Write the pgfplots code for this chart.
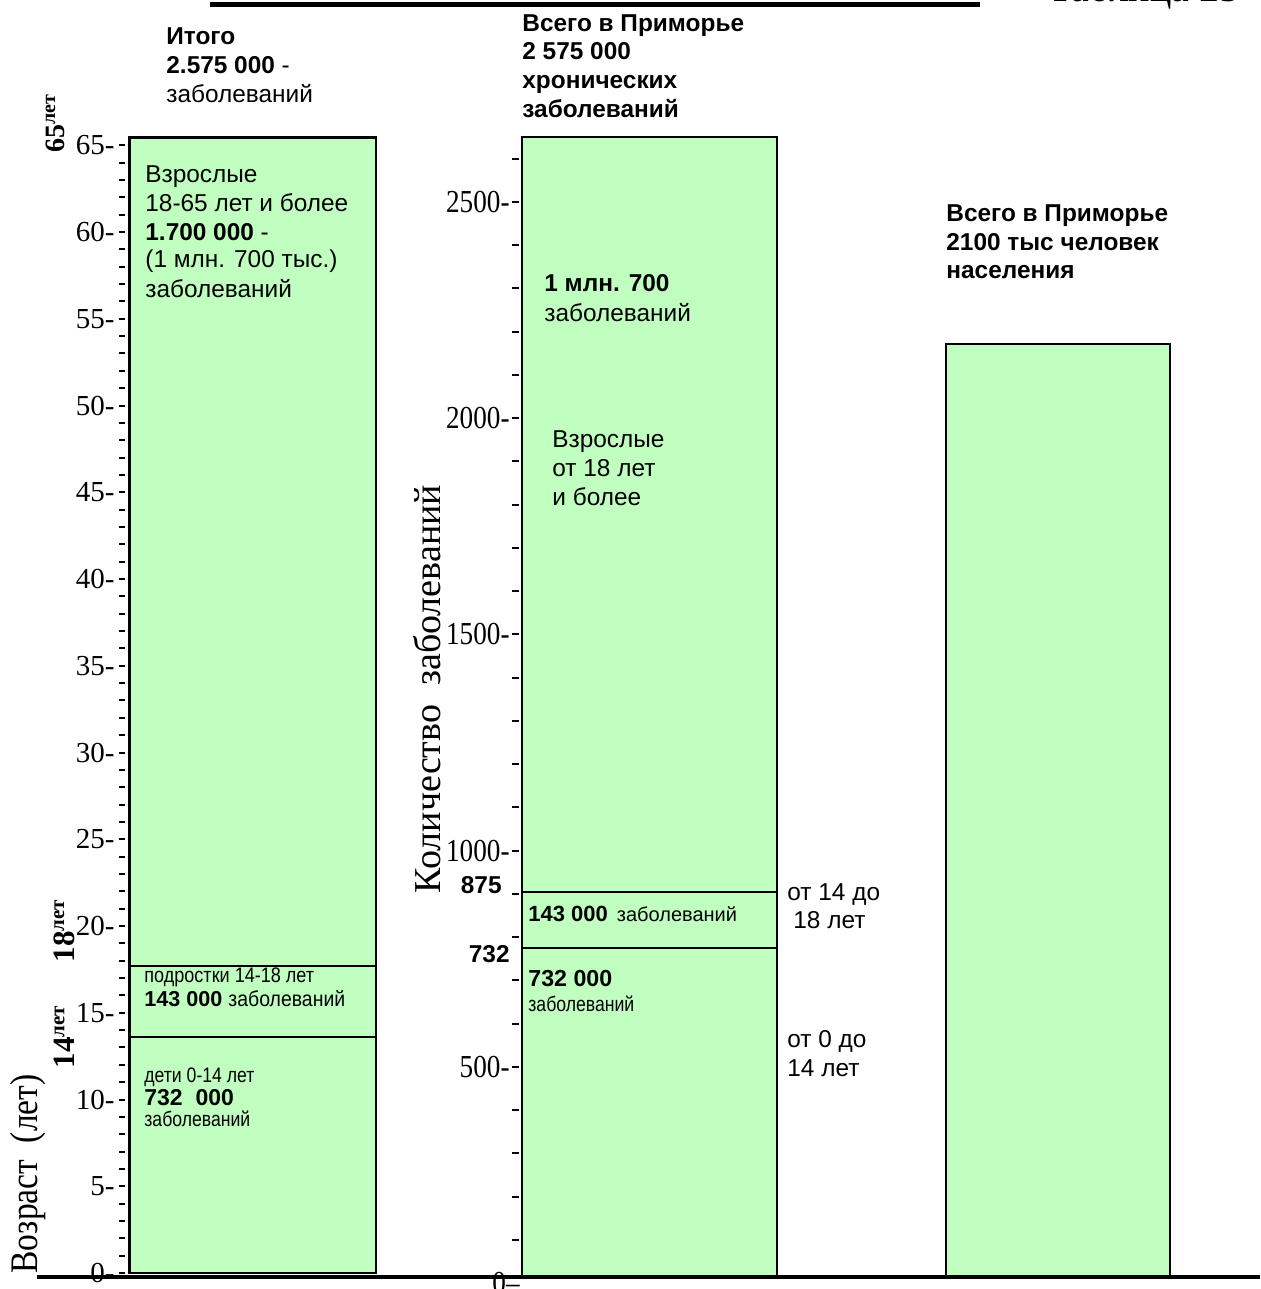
\documentclass[border=0pt]{standalone}
\usepackage{pgfplots}
\pgfplotsset{compat=1.18}
\usepackage{fontspec}
\setmainfont{Liberation Serif}
\newfontfamily\ar{Liberation Sans}
\definecolor{barg}{RGB}{192,255,192}
\newcommand\cond[2]{\scalebox{#1}[1]{#2}}
\newcommand\T[3]{\node[anchor=base west,inner sep=0pt] at (#1,#2) {#3};}

\pgfplotsset{
  colbar/.style={fill=barg, draw=black, line width=1.3pt},
  tickaxis/.style={
    scale only axis,
    axis line style={draw=none},
    xtick=\empty, ytick pos=left,
    tick align=outside,
    every major tick/.append style={line width=1pt, black},
    every minor tick/.append style={line width=1pt, black},
    /pgf/number format/assume math mode=true,
    /pgf/number format/1000 sep={},
    ybar, bar shift=0pt,
  },
}

\begin{document}
\begin{tikzpicture}
\path[use as bounding box] (0,0) rectangle (630pt,644.5pt);

% age scale, 0-65 years
\begin{axis}[tickaxis,
  at={(62.5pt,6pt)}, anchor=south west,
  width=127.5pt, height=570.2pt,
  xmin=0, xmax=255, ymin=-0.23, ymax=65.5,
  ytick={0,5,...,65}, minor ytick={1,...,64},
  major tick length=3pt, minor tick length=3pt,
  yticklabel={\pgfmathprintnumber{\tick}-},
  yticklabel style={font=\fontsize{14.5}{14.5}\selectfont, inner xsep=2pt},
  bar width=246.5, clip=false,
]
\addplot[colbar] coordinates {(127.75,65.45)};
\addplot[colbar] coordinates {(127.75,17.7)};
\addplot[colbar] coordinates {(127.75,13.6)};
\end{axis}

% number of diseases, thousands
\begin{axis}[tickaxis,
  at={(259.5pt,6pt)}, anchor=south west,
  width=370.5pt, height=580.75pt,
  xmin=-3, xmax=738, ymin=14.45, ymax=2700,
  ytick={500,1000,...,2500}, minor ytick={100,200,...,2600},
  major tick length=3.5pt, minor tick length=3.5pt,
  yticklabel={\cond{0.85}{\pgfmathprintnumber{\tick}-}},
  yticklabel style={font=\fontsize{16}{16}\selectfont, inner xsep=1pt},
]
\addplot[colbar, bar width=255] coordinates {(127.5,2650)};
\addplot[colbar, bar width=255] coordinates {(127.5,905)};
\addplot[colbar, bar width=255] coordinates {(127.5,775)};
\addplot[colbar, bar width=224] coordinates {(536,2172)};
\end{axis}

\draw[line width=2pt] (18.5pt,6pt) -- (630pt,6pt);

\begin{scope}[x=0.5pt, y=-0.5pt, yshift=644.5pt,
  every node/.style={font=\ar\fontsize{12.2}{14.3}\selectfont}]
\draw[line width=2.5pt] (210,4.5) -- (980,4.5);
\node[anchor=base west, inner sep=0pt, font=\fontsize{20}{20}\selectfont] at (1048,2) {Таблица 25};

\T{166}{45}{\textbf{Итого}}
\T{166}{74}{\textbf{2.575 000} -}
\T{166}{103}{заболеваний}
\T{145}{183}{Взрослые}
\T{145}{212}{18-65 лет и более}
\T{145}{241}{\textbf{1.700 000} -}
\T{145}{268}{(1 млн. 700 тыс.)}
\T{145}{298}{заболеваний}
\T{144}{983}{\fontsize{10.5}{12}\selectfont\cond{0.86}{подростки 14-18 лет}}
\T{144}{1007}{\fontsize{10.8}{12}\selectfont\textbf{143 000} \cond{0.9}{заболеваний}}
\T{144}{1083}{\fontsize{10.5}{12}\selectfont\cond{0.84}{дети 0-14 лет}}
\T{144}{1106}{\fontsize{11.5}{12}\selectfont\textbf{732~~000}}
\T{144}{1127}{\fontsize{10.5}{12}\selectfont\cond{0.84}{заболеваний}}

\T{522}{32}{\textbf{Всего в Приморье}}
\T{522}{60}{\textbf{2 575 000}}
\T{522}{89}{\textbf{хронических}}
\T{522}{118}{\textbf{заболеваний}}
\T{544}{292}{\textbf{1 млн. 700}}
\T{544}{322}{заболеваний}
\T{552}{448}{Взрослые}
\T{552}{477}{от 18 лет}
\T{552}{506}{и более}
\T{528}{922}{\fontsize{11}{12}\selectfont\textbf{143 000}\hspace{4.5pt}\fontsize{10}{12}\selectfont заболеваний}
\T{528}{987}{\fontsize{11.6}{12}\selectfont\textbf{732 000}}
\T{528}{1012}{\fontsize{10.5}{12}\selectfont\cond{0.84}{заболеваний}}

\T{787}{901}{от 14 до}
\T{793}{929}{18 лет}
\T{787}{1048}{от 0 до}
\T{787}{1077}{14 лет}

\T{946}{222}{\textbf{Всего в Приморье}}
\T{946}{251}{\textbf{2100 тыс человек}}
\T{946}{279}{\textbf{населения}}

\node[anchor=base east, inner sep=0pt] at (502,894) {\textbf{875}};
\node[anchor=base east, inner sep=0pt] at (510,963) {\textbf{732}};
\node[anchor=east, inner sep=0pt, font=\fontsize{16}{16}\selectfont] at (520,1283) {\cond{0.85}{0--}};

\node[rotate=90, font=\fontsize{19}{19}\selectfont] at (427,689) {Количество\ \ заболеваний};
\node[rotate=90, anchor=east, inner sep=0pt, font=\fontsize{19.5}{19.5}\selectfont] at (28,1074) {\cond{0.86}{Возраст\ \ (лет)}};

\node[rotate=90, font=\bfseries\fontsize{14}{14}\selectfont] at (55,124) {65\raisebox{0.7ex}{\fontsize{10}{10}\selectfont лет}};
\node[rotate=90, font=\bfseries\fontsize{15.5}{15.5}\selectfont] at (64,931) {18\raisebox{0.7ex}{\fontsize{10.5}{10.5}\selectfont лет}};
\node[rotate=90, font=\bfseries\fontsize{15.5}{15.5}\selectfont] at (64,1037) {14\raisebox{0.7ex}{\fontsize{10.5}{10.5}\selectfont лет}};
\end{scope}
\end{tikzpicture}
\end{document}
